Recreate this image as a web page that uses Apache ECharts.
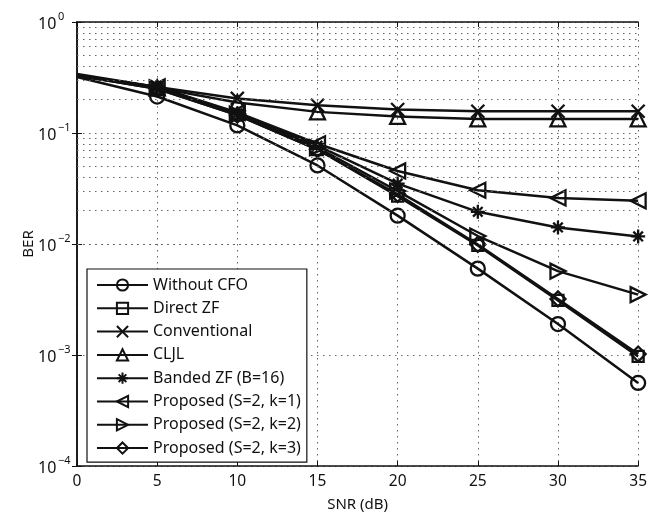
<!DOCTYPE html>
<html>
<head>
<meta charset="utf-8">
<script src="https://cdn.jsdelivr.net/npm/echarts@6/dist/echarts.min.js"></script>
<style>html,body{margin:0;padding:0;background:#fff}#c{width:650px;height:517px}</style>
</head>
<body>
<div id="c"></div>
<script>
var snr = [0, 5, 10, 15, 20, 25, 30, 35];
var withoutCFO   = [0.32, 0.213, 0.117, 0.051, 0.018, 0.006, 0.0019, 0.00056];
var directZF     = [0.33, 0.25, 0.145, 0.071, 0.027, 0.0097, 0.0031, 0.00097];
var conventional = [0.34, 0.26, 0.205, 0.178, 0.163, 0.157, 0.157, 0.157];
var cljl         = [0.335, 0.255, 0.188, 0.155, 0.141, 0.134, 0.134, 0.134];
var bandedZF     = [0.33, 0.26, 0.15, 0.077, 0.035, 0.0195, 0.0141, 0.0117];
var propK1       = [0.33, 0.26, 0.153, 0.08, 0.0455, 0.0305, 0.026, 0.0245];
var propK2       = [0.33, 0.255, 0.148, 0.074, 0.030, 0.0118, 0.0057, 0.0035];
var propK3       = [0.33, 0.25, 0.145, 0.071, 0.028, 0.0099, 0.0032, 0.00102];
var names = ['Without CFO', 'Direct ZF', 'Conventional', 'CLJL', 'Banded ZF (B=16)',
             'Proposed (S=2, k=1)', 'Proposed (S=2, k=2)', 'Proposed (S=2, k=3)'];
var seriesData = [withoutCFO, directZF, conventional, cljl, bandedZF, propK1, propK2, propK3];
var symbols = [
  'circle',
  'rect',
  'path://M0,0L10,10M10,0L0,10',
  'path://M5,0L10,10L0,10Z',
  'path://M5,0L5,10M0,5L10,5M1.6,1.6L8.4,8.4M8.4,1.6L1.6,8.4',
  'path://M0,5L10,0L10,10Z',
  'path://M10,5L0,0L0,10Z',
  'path://M5,0L10,5L5,10L0,5Z'
];
var symSizes = [14, 11, 13, 15, 14, 15, 15, 15];

// minor grid values for log axis (grid lines, not data)
var minorGrid = [];
for (var e = -4; e < 0; e++) {
  for (var m = 2; m <= 9; m++) minorGrid.push(m * Math.pow(10, e));
}

var FONT = 'Noto Sans';
var dotted = { type: [1.5, 4.5], color: '#666', width: 1 };

var series = names.map(function (n, i) {
  return {
    name: n,
    type: 'line',
    data: snr.map(function (x, j) {
      var d = { value: [x, seriesData[i][j]] };
      if (j === 0) d.symbol = 'none';
      return d;
    }),
    symbol: symbols[i],
    symbolSize: symSizes[i],
    showAllSymbol: true,
    lineStyle: { color: '#111', width: 2.5 },
    itemStyle: { color: 'rgba(0,0,0,0)', borderColor: '#111', borderWidth: 2.3 },
    emphasis: { disabled: true },
    z: 3
  };
});
series.push({
  type: 'line',
  data: [],
  silent: true,
  markLine: {
    silent: true,
    symbol: 'none',
    animation: false,
    label: { show: false },
    lineStyle: dotted,
    data: minorGrid.map(function (v) { return { yAxis: v }; })
  }
});

var chart = echarts.init(document.getElementById('c'));
chart.setOption({
  animation: false,
  backgroundColor: '#fff',
  textStyle: { fontFamily: FONT },
  grid: { left: 77, right: 9, top: 22, bottom: 49 },
  xAxis: [{
    type: 'value', min: 0, max: 35, interval: 5,
    name: 'SNR (dB)', nameLocation: 'middle', nameGap: 31, nameMoveOverlap: false,
    nameTextStyle: { fontFamily: FONT, fontSize: 15, color: '#111' },
    axisLine: { lineStyle: { color: '#111', width: 1.5 } },
    axisTick: { inside: true, length: 5, lineStyle: { color: '#111' } },
    axisLabel: { fontFamily: FONT, fontSize: 15.5, color: '#111', margin: 8 },
    splitLine: { show: true, lineStyle: dotted }
  }, {
    type: 'value', min: 0, max: 35, interval: 5, position: 'top',
    axisLine: { show: true, onZero: false, lineStyle: { color: '#111', width: 1.5 } },
    axisTick: { inside: true, length: 5, lineStyle: { color: '#111' } },
    axisLabel: { show: false }, splitLine: { show: false }
  }],
  yAxis: [{
    type: 'log', min: 1e-4, max: 1, logBase: 10,
    name: 'BER', nameLocation: 'middle', nameGap: 41, nameMoveOverlap: false,
    nameTextStyle: { fontFamily: FONT, fontSize: 15, color: '#111' },
    axisLine: { show: true, lineStyle: { color: '#111', width: 1.5 } },
    axisTick: { show: true, inside: true, length: 5, lineStyle: { color: '#111' } },
    axisLabel: {
      margin: 39,
      align: 'left',
      formatter: function (v) {
        var ex = Math.round(Math.log10(v));
        return '{s|' + (ex < 0 ? '\u2212' + (-ex) : ex) + '}\n{b|10}';
      },
      rich: {
        s: { fontFamily: FONT, fontSize: 11, color: '#111', lineHeight: 10, padding: [0, 0, 0, 20] },
        b: { fontFamily: FONT, fontSize: 16, color: '#111', lineHeight: 10, padding: [0, 0, 5, 0] }
      }
    },
    splitLine: { show: true, lineStyle: dotted }
  }, {
    type: 'log', min: 1e-4, max: 1, logBase: 10, position: 'right',
    axisLine: { show: true, lineStyle: { color: '#111', width: 1.5 } },
    axisTick: { show: true, inside: true, length: 5, lineStyle: { color: '#111' } },
    axisLabel: { show: false }, splitLine: { show: false }
  }],
  legend: {
    data: names,
    orient: 'vertical',
    left: 87, top: 269,
    padding: [8, 6, 6, 9],
    itemWidth: 51, itemHeight: 14, itemGap: 7.3,
    backgroundColor: '#fff',
    borderColor: '#111', borderWidth: 1.2,
    textStyle: { fontFamily: FONT, fontSize: 16, color: '#111' },
    selectedMode: false
  },
  series: series
});
</script>
</body>
</html>
